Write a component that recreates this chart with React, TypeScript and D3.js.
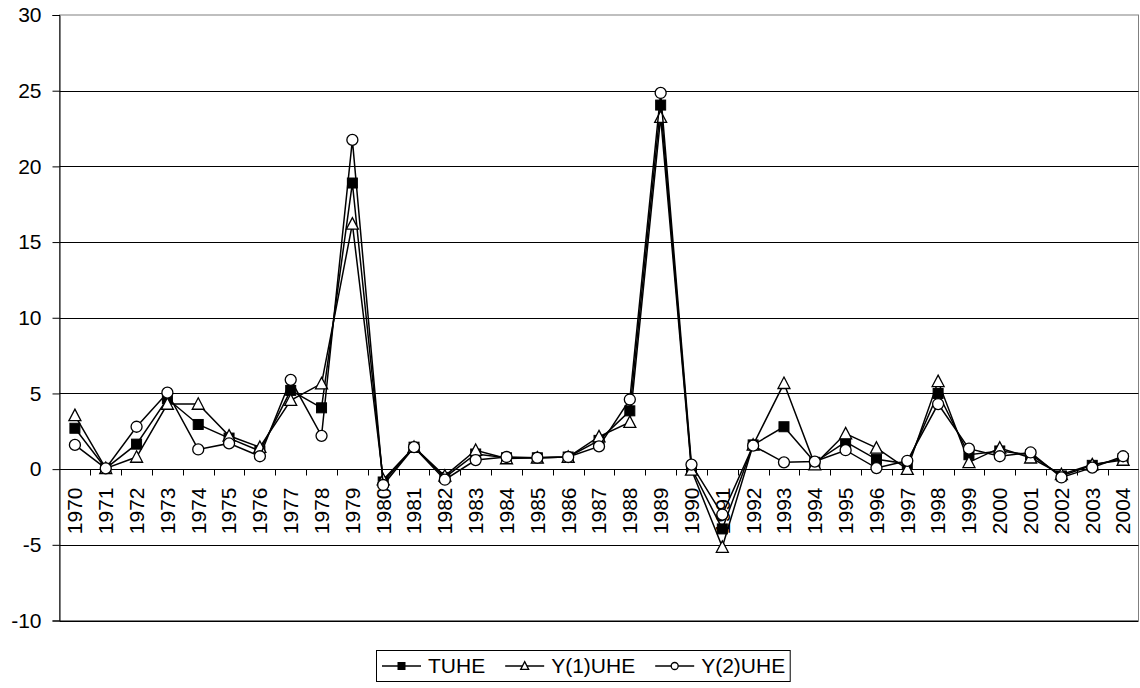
import React, { useRef, useEffect } from "react";
import * as d3 from "d3";

const years = [
  "1970", "1971", "1972", "1973", "1974", "1975", "1976", "1977", "1978", "1979",
  "1980", "1981", "1982", "1983", "1984", "1985", "1986", "1987", "1988", "1989",
  "1990", "1991", "1992", "1993", "1994", "1995", "1996", "1997", "1998", "1999",
  "2000", "2001", "2002", "2003", "2004",
];

const tuhe = [
  2.7, 0.05, 1.65, 4.65, 2.95, 2.05, 1.2, 5.2, 4.05, 18.9,
  -0.85, 1.45, -0.55, 1.0, 0.75, 0.75, 0.8, 1.9, 3.85, 24.05,
  0.05, -3.95, 1.6, 2.8, 0.45, 1.8, 0.65, 0.35, 5.0, 0.95,
  1.2, 0.95, -0.45, 0.25, 0.7,
];

const y1uhe = [
  3.55, 0.05, 0.8, 4.3, 4.3, 2.2, 1.45, 4.55, 5.65, 16.2,
  -0.7, 1.45, -0.45, 1.25, 0.7, 0.75, 0.8, 2.15, 3.1, 23.25,
  -0.05, -5.15, 1.6, 5.67, 0.3, 2.35, 1.4, 0.0, 5.8, 0.45,
  1.4, 0.75, -0.35, 0.3, 0.6,
];

const y2uhe = [
  1.6, 0.05, 2.8, 5.05, 1.3, 1.7, 0.85, 5.9, 2.2, 21.75,
  -1.05, 1.45, -0.7, 0.6, 0.8, 0.75, 0.8, 1.5, 4.6, 24.85,
  0.3, -3.0, 1.55, 0.45, 0.5, 1.25, 0.07, 0.55, 4.3, 1.35,
  0.85, 1.1, -0.55, 0.1, 0.85,
];

const yTicks = [-10, -5, 0, 5, 10, 15, 20, 25, 30];

const seriesList = [
  { name: "TUHE", values: tuhe, marker: "square" },
  { name: "Y(1)UHE", values: y1uhe, marker: "triangle" },
  { name: "Y(2)UHE", values: y2uhe, marker: "circle" },
];

const App = () => {
  const svgRef = useRef<SVGSVGElement>(null);

  useEffect(() => {
    const width = 1140;
    const height = 688;
    const left = 59.5;
    const right = 1138.5;
    const top = 15;
    const bottom = 620.5;
    const font = "'Liberation Sans', Arial, sans-serif";

    const svg = d3.select(svgRef.current).attr("width", width).attr("height", height);
    svg.selectAll("*").remove();

    const x = d3.scaleBand<string>().domain(years).range([left, right]);
    const y = d3.scaleLinear().domain([-10, 30]).range([bottom, top]);

    // plot border
    svg.append("rect")
      .attr("x", left).attr("y", top)
      .attr("width", right - left).attr("height", bottom - top)
      .attr("fill", "none").attr("stroke", "#808080").attr("stroke-width", 1);

    // grid lines
    svg.append("g")
      .selectAll("line")
      .data(yTicks.filter((d) => d !== 30))
      .join("line")
      .attr("x1", left).attr("x2", right)
      .attr("y1", (d) => Math.round(y(d)) + 0.5)
      .attr("y2", (d) => Math.round(y(d)) + 0.5)
      .attr("stroke", "#000").attr("stroke-width", 1);

    // y axis
    const yAxis = svg.append("g")
      .attr("transform", `translate(${left},0)`)
      .call(d3.axisLeft(y).tickValues(yTicks).tickSize(7).tickPadding(11).tickFormat((d) => `${d}`));
    yAxis.select(".domain").attr("stroke", "#000");
    yAxis.selectAll(".tick line").attr("stroke", "#000");
    yAxis.selectAll(".tick text")
      .attr("fill", "#000")
      .style("font-family", font)
      .style("font-size", "21px");

    // x axis at zero
    const zeroY = Math.round(y(0)) + 0.5;
    const xAxisG = svg.append("g").attr("transform", `translate(0,${zeroY})`);
    xAxisG.append("line")
      .attr("x1", left).attr("x2", right).attr("y1", 0).attr("y2", 0)
      .attr("stroke", "#000");
    xAxisG.selectAll("line.tk")
      .data(years.slice(1))
      .join("line")
      .attr("class", "tk")
      .attr("x1", (d) => Math.round(x(d)!) + 0.5)
      .attr("x2", (d) => Math.round(x(d)!) + 0.5)
      .attr("y1", 0).attr("y2", 6)
      .attr("stroke", "#000");
    xAxisG.selectAll("text")
      .data(years)
      .join("text")
      .attr("transform", (d) => `translate(${x(d)! + x.bandwidth() / 2},18) rotate(-90)`)
      .attr("text-anchor", "end")
      .attr("dy", "0.35em")
      .attr("fill", "#000")
      .style("font-family", font)
      .style("font-size", "21px")
      .text((d) => d);

    const cx = (i: number) => x(years[i])! + x.bandwidth() / 2;

    const drawMarker = (g: any, kind: string, px: number, py: number, s: number) => {
      if (kind === "square") {
        g.append("rect")
          .attr("x", px - s / 2).attr("y", py - s / 2)
          .attr("width", s).attr("height", s)
          .attr("fill", "#000").attr("stroke", "#000");
      } else if (kind === "triangle") {
        const h = s * 0.95;
        g.append("path")
          .attr("d", `M${px},${py - h / 2 - 1}L${px + s / 2 + 0.5},${py + h / 2}L${px - s / 2 - 0.5},${py + h / 2}Z`)
          .attr("fill", "#fff").attr("stroke", "#000").attr("stroke-width", 1.3);
      } else {
        g.append("circle")
          .attr("cx", px).attr("cy", py).attr("r", s / 2)
          .attr("fill", "#fff").attr("stroke", "#000").attr("stroke-width", 1.3);
      }
    };

    const line = d3.line<number>()
      .x((_, i) => cx(i))
      .y((d) => y(d));

    seriesList.forEach((s) => {
      const g = svg.append("g");
      g.append("path")
        .datum(s.values)
        .attr("fill", "none")
        .attr("stroke", "#000")
        .attr("stroke-width", 1.5)
        .attr("d", line);
      s.values.forEach((v, i) => {
        drawMarker(g, s.marker, cx(i), y(v), s.marker === "square" ? 10 : 11);
      });
    });

    // legend
    const legend = svg.append("g");
    const ly = 666;
    const box = legend.append("rect")
      .attr("y", 650.5).attr("height", 31)
      .attr("fill", "#fff").attr("stroke", "#000");
    let cursor = 382;
    seriesList.forEach((s) => {
      legend.append("line")
        .attr("x1", cursor).attr("x2", cursor + 39)
        .attr("y1", ly).attr("y2", ly)
        .attr("stroke", "#000").attr("stroke-width", 1.5);
      drawMarker(legend, s.marker, cursor + 19.5, ly, 7);
      const t = legend.append("text")
        .attr("x", cursor + 46)
        .attr("y", ly)
        .attr("dy", "0.35em")
        .attr("fill", "#000")
        .style("font-family", font)
        .style("font-size", "21px")
        .text(s.name);
      const w = (t.node() as SVGTextElement).getComputedTextLength();
      cursor = cursor + 46 + w + 20;
    });
    box.attr("x", 376.5).attr("width", cursor - 20 + 5 - 376.5);
  }, []);

  return (
    <div style={{ position: "absolute", left: 0, top: 0 }}>
      <svg ref={svgRef} style={{ display: "block" }}></svg>
    </div>
  );
};

export default App;
